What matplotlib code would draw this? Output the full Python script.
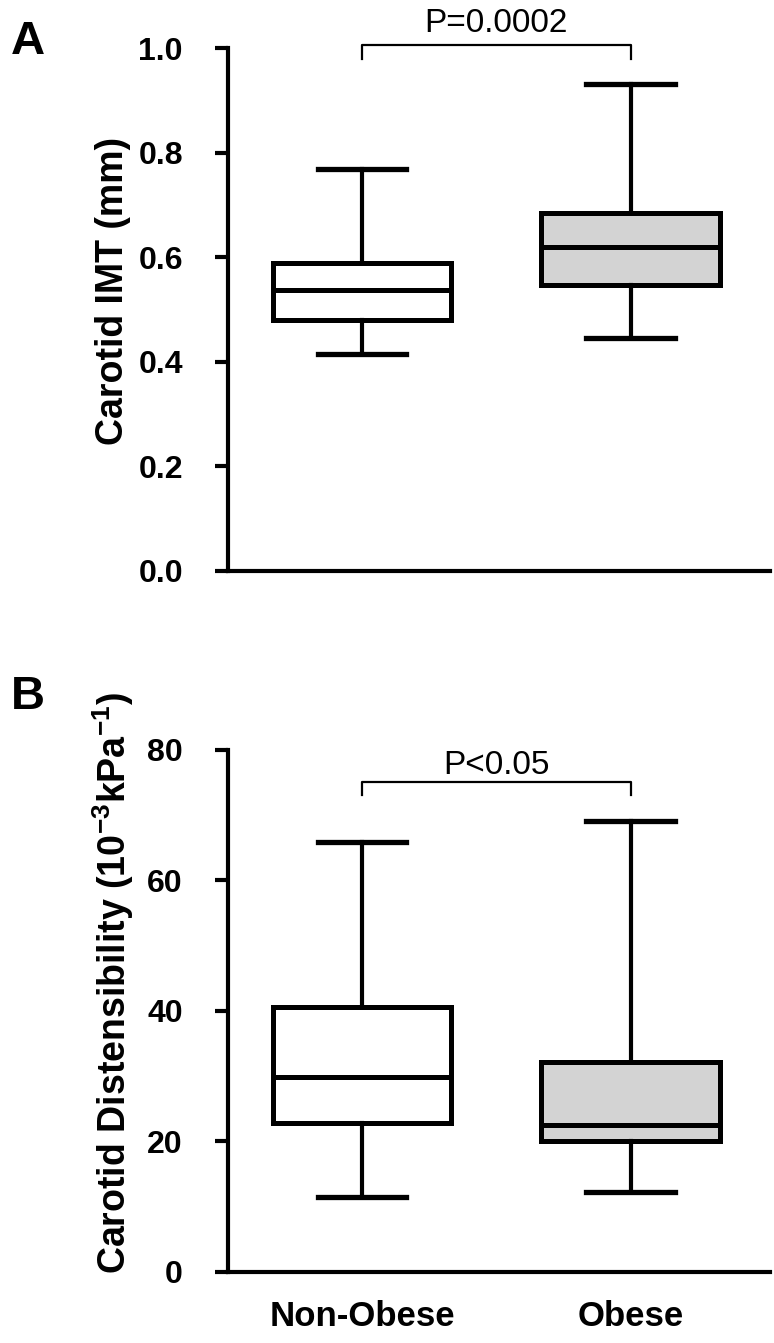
import matplotlib
matplotlib.use('Agg')
import matplotlib.pyplot as plt

plt.rcParams['font.family'] = ['Liberation Sans', 'DejaVu Sans']
plt.rcParams['mathtext.default'] = 'regular'

# Groups and box fills
groups = ['Non-Obese', 'Obese']
fills = ['white', '#d3d3d3']

# Panel A - carotid IMT (mm): whisker ends, quartiles, median
imt_low = [0.414, 0.445]
imt_q1 = [0.479, 0.546]
imt_med = [0.537, 0.619]
imt_q3 = [0.589, 0.684]
imt_high = [0.768, 0.931]
imt_ticks = [0.0, 0.2, 0.4, 0.6, 0.8, 1.0]

# Panel B - carotid distensibility (10^-3 kPa^-1)
dist_low = [11.5, 12.3]
dist_q1 = [22.8, 20.1]
dist_med = [29.9, 22.5]
dist_q3 = [40.5, 32.2]
dist_high = [65.9, 69.1]
dist_ticks = [0, 20, 40, 60, 80]


def draw_panel(ax, low, q1, med, q3, high, ticks, fmt, ylabel, ptext,
               bar_top, bar_leg, text_y, label_top):
    stats = []
    for i, g in enumerate(groups):
        stats.append({'label': g, 'whislo': low[i], 'q1': q1[i], 'med': med[i],
                      'q3': q3[i], 'whishi': high[i], 'fliers': []})
    bp = ax.bxp(stats, positions=[1, 2], widths=0.665, capwidths=0.33,
                showfliers=False, patch_artist=True,
                boxprops=dict(linewidth=3.6, edgecolor='black'),
                medianprops=dict(linewidth=3.6, color='black'),
                whiskerprops=dict(linewidth=3.0, color='black'),
                capprops=dict(linewidth=3.8, color='black'))
    for patch, c in zip(bp['boxes'], fills):
        patch.set_facecolor(c)

    ax.set_xlim(0.5, 2.52)
    ax.set_ylim(ticks[0], ticks[-1])
    ax.set_yticks(ticks)
    ax.set_yticklabels([fmt.format(t) for t in ticks])
    for s in ['top', 'right']:
        ax.spines[s].set_visible(False)
    for s in ['left', 'bottom']:
        ax.spines[s].set_linewidth(3.0)
    ax.tick_params(axis='y', length=9.5, width=3.0, pad=23, labelsize=23)
    ax.tick_params(axis='x', length=0, pad=20, labelsize=25)
    for lab in ax.get_yticklabels() + ax.get_xticklabels():
        lab.set_fontweight('bold')

    ax.text(-0.212, label_top, ylabel, rotation=90, ha='center', va='top',
            fontsize=27, fontweight='bold', transform=ax.transAxes)

    # significance bracket
    ax.plot([1, 1, 2, 2], [bar_leg, bar_top, bar_top, bar_leg], color='black',
            linewidth=1.6, clip_on=False)
    ax.text(1.5, text_y, ptext, ha='center', va='center', fontsize=24,
            clip_on=False)


fig = plt.figure(figsize=(7.74, 13.43), dpi=100)
axA = fig.add_axes([0.2946, 0.5752, 0.7003, 0.389])
axB = fig.add_axes([0.2946, 0.0529, 0.7003, 0.389])

draw_panel(axA, imt_low, imt_q1, imt_med, imt_q3, imt_high, imt_ticks, '{:.1f}',
           'Carotid IMT (mm)', 'P=0.0002', 1.005, 0.979, 1.048, 0.83)
axA.set_xticklabels([])

draw_panel(axB, dist_low, dist_q1, dist_med, dist_q3, dist_high, dist_ticks, '{:.0f}',
           'Carotid Distensibility (10$^{-3}$kPa$^{-1}$)', 'P<0.05',
           75.1, 73.1, 77.6, 1.109)

fig.text(0.036, 0.969, 'A', fontsize=34, fontweight='bold', ha='center', va='center')
fig.text(0.036, 0.481, 'B', fontsize=34, fontweight='bold', ha='center', va='center')

fig.savefig('out.png', dpi=100)
